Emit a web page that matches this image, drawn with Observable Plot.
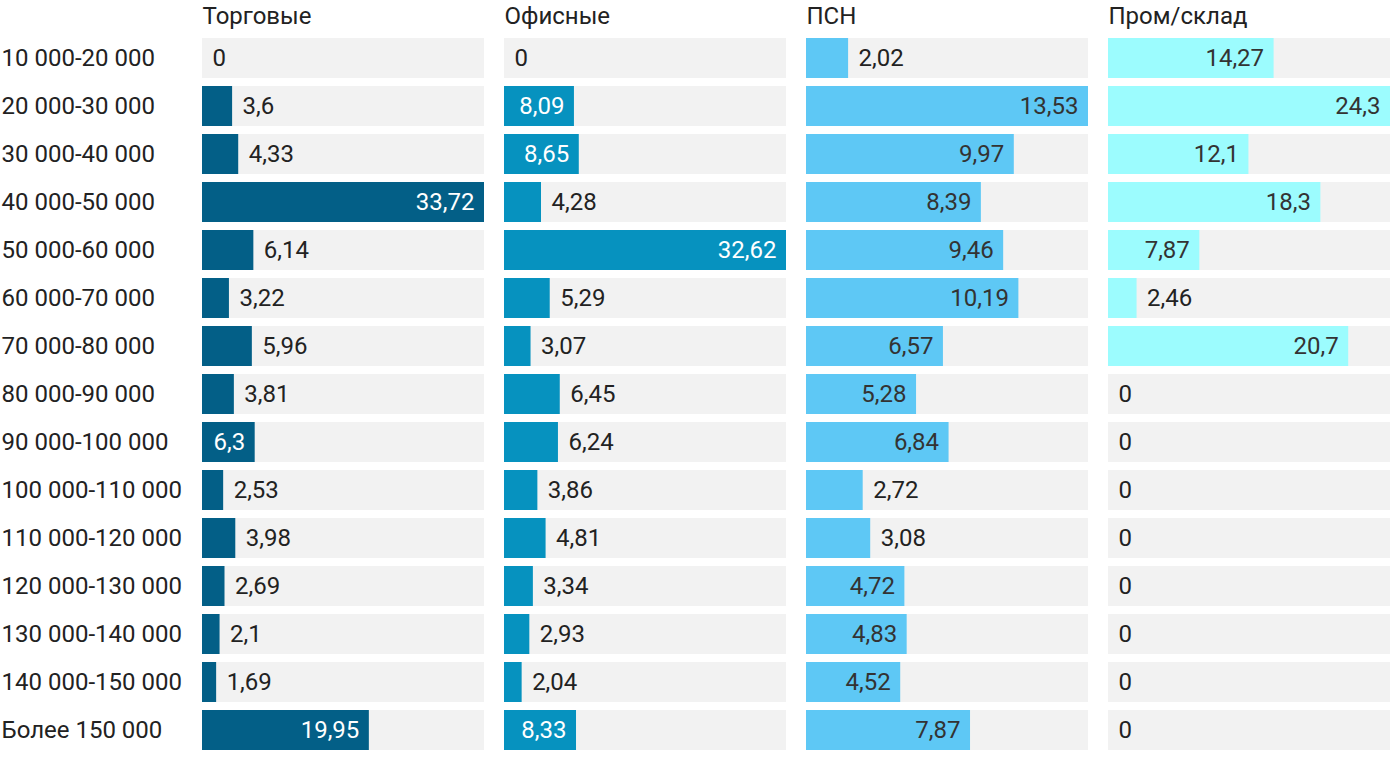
<!DOCTYPE html>
<html>
<head>
<meta charset="utf-8">
<script src="https://cdn.jsdelivr.net/npm/d3@7"></script>
<script src="https://cdn.jsdelivr.net/npm/@observablehq/plot@0.6"></script>
<style>
  html, body { margin: 0; padding: 0; background: #fff; }
  #chart { display: flex; flex-direction: row; align-items: flex-start; }
  svg { display: block; }
</style>
</head>
<body>
<div id="chart"></div>
<script>
const categories = [
  "10 000-20 000", "20 000-30 000", "30 000-40 000", "40 000-50 000",
  "50 000-60 000", "60 000-70 000", "70 000-80 000", "80 000-90 000",
  "90 000-100 000", "100 000-110 000", "110 000-120 000", "120 000-130 000",
  "130 000-140 000", "140 000-150 000", "Более 150 000"
];
const seriesNames = ["Торговые", "Офисные", "ПСН", "Пром/склад"];
const torgovye = [0, 3.6, 4.33, 33.72, 6.14, 3.22, 5.96, 3.81, 6.3, 2.53, 3.98, 2.69, 2.1, 1.69, 19.95];
const ofisnye  = [0, 8.09, 8.65, 4.28, 32.62, 5.29, 3.07, 6.45, 6.24, 3.86, 4.81, 3.34, 2.93, 2.04, 8.33];
const psn      = [2.02, 13.53, 9.97, 8.39, 9.46, 10.19, 6.57, 5.28, 6.84, 2.72, 3.08, 4.72, 4.83, 4.52, 7.87];
const promsklad = [14.27, 24.3, 12.1, 18.3, 7.87, 2.46, 20.7, 0, 0, 0, 0, 0, 0, 0, 0];
const seriesValues = [torgovye, ofisnye, psn, promsklad];

const barColors = ["#035f87", "#0692bf", "#5ec8f5", "#9cfcfe"];
const insideText = ["#ffffff", "#ffffff", "#333333", "#333333"];
const FS = 24;
const FONT = "Roboto, sans-serif";
const H = 766, MT = 30, MB = 8;

const canvas = document.createElement("canvas");
const ctx = canvas.getContext("2d");
ctx.font = `${FS}px Roboto`;
function inkWidth(s) {
  const m = ctx.measureText(s);
  return (m.actualBoundingBoxRight || m.width) + (m.actualBoundingBoxLeft || 0);
}
const fmt = v => String(v).replace(".", ",");

const chart = document.getElementById("chart");

seriesNames.forEach((name, i) => {
  const vals = seriesValues[i];
  const data = categories.map((c, j) => ({cat: c, value: vals[j]}));
  const maxV = d3.max(vals);
  const first = i === 0;
  const ml = first ? 202 : 20;
  const plotW = 282;
  const W = ml + plotW;
  const isInside = d => d.value > 0 && (d.value / maxV) * plotW - inkWidth(fmt(d.value)) >= 21.3;
  const marks = [
    Plot.barX(categories, {y: d => d, x1: 0, x2: () => maxV, fill: "#f2f2f2"}),
    Plot.barX(data, {y: "cat", x: "value", fill: barColors[i]}),
    Plot.text(data.filter(isInside), {y: "cat", x: "value", text: d => fmt(d.value), textAnchor: "end", dx: -10, fill: insideText[i], fontSize: FS}),
    Plot.text(data.filter(d => !isInside(d)), {y: "cat", x: "value", text: d => fmt(d.value), textAnchor: "start", dx: 10, fill: "#222", fontSize: FS}),
    Plot.text([name], {frameAnchor: "top-left", lineAnchor: "bottom", dy: -7, text: d => d, textAnchor: "start", fill: "#222", fontSize: FS})
  ];
  if (first) {
    marks.push(Plot.axisY({tickSize: 0, tickPadding: 0, textAnchor: "start", dx: -201, fontSize: FS, fill: "#222", label: null}));
  }
  const svg = Plot.plot({
    width: W,
    height: H,
    marginLeft: ml,
    marginRight: 0,
    marginTop: MT,
    marginBottom: MB,
    style: {fontFamily: FONT, fontSize: FS + "px", color: "#222", background: "transparent"},
    x: {domain: [0, maxV], axis: null},
    y: {domain: categories, paddingInner: 1/6, paddingOuter: 1/6, round: false, axis: null, label: null},
    marks
  });
  chart.appendChild(svg);
});
</script>
</body>
</html>
